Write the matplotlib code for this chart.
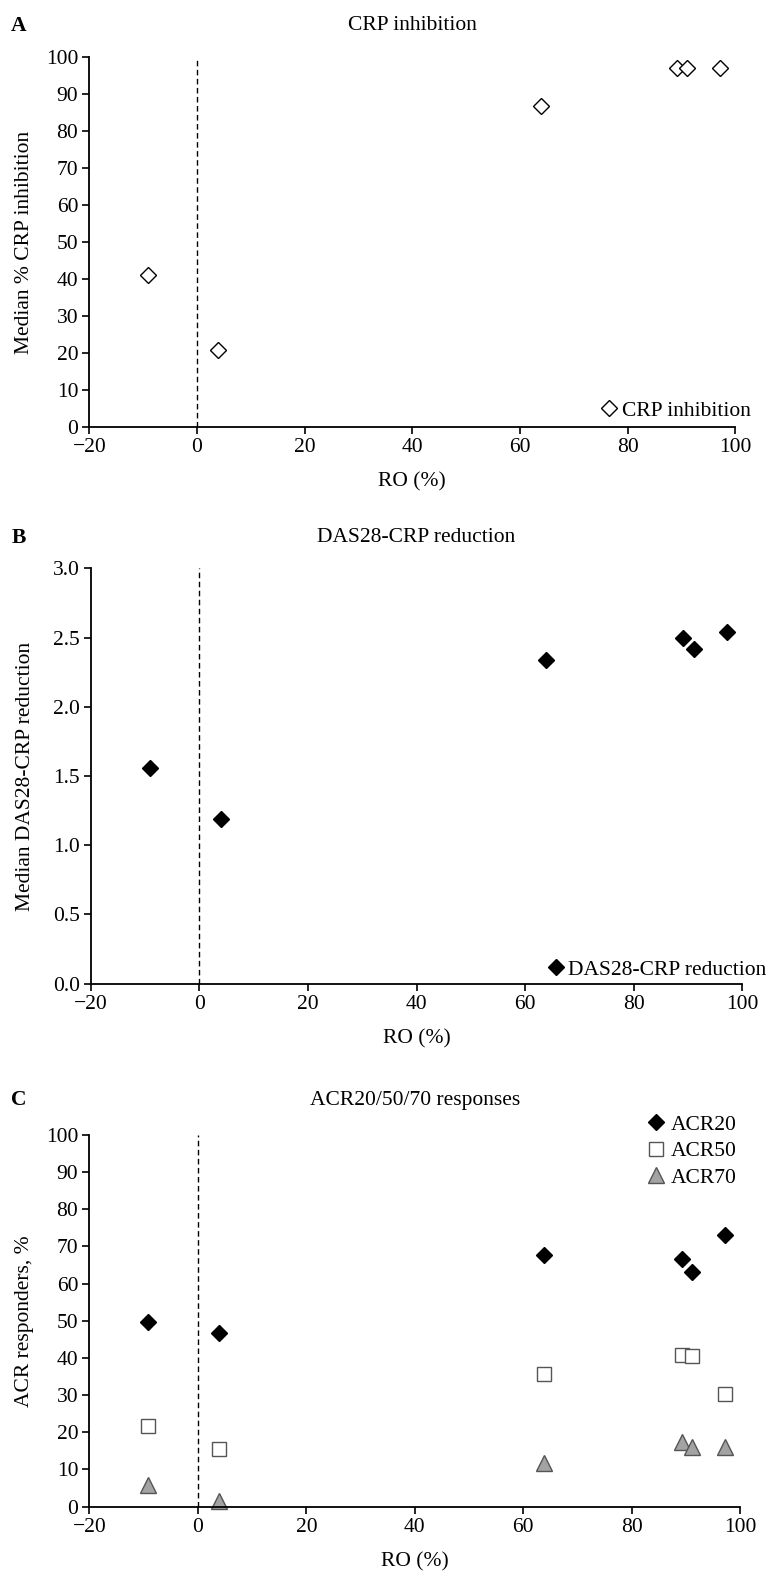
import matplotlib
matplotlib.use('Agg')
from matplotlib import pyplot as plt

plt.rcParams['font.family'] = ['Liberation Serif', 'DejaVu Serif']

# data
ro = [-9.2, 3.9, 63.9, 89.2, 91.1, 97.2]
crp_inhib = [41.2, 20.8, 86.8, 96.9, 96.9, 96.9]
das28_red = [1.56, 1.19, 2.34, 2.50, 2.42, 2.54]
acr20 = [49.6, 46.8, 67.6, 66.7, 63.0, 73.0]
acr50 = [21.8, 15.5, 35.6, 40.9, 40.4, 30.3]
acr70 = [5.7, 1.6, 11.8, 17.4, 16.0, 16.0]

xticks = [-20, 0, 20, 40, 60, 80, 100]

FS = 15.5
W, H = 770, 1571
fig = plt.figure(figsize=(W / 100, H / 100), dpi=100)

def px(l, t, r, b):
    return [l / W, (H - b) / H, (r - l) / W, (b - t) / H]

def style(ax, ylim, yticks, yfmt):
    ax.set_xlim(-20, 100)
    ax.set_ylim(*ylim)
    ax.set_xticks(xticks)
    ax.set_xticklabels(['\u221220' if v < 0 else str(v) for v in xticks])
    ax.set_yticks(yticks)
    ax.set_yticklabels([yfmt.format(v) for v in yticks])
    for s in ['top', 'right']:
        ax.spines[s].set_visible(False)
    for s in ['left', 'bottom']:
        ax.spines[s].set_linewidth(1.3)
    ax.tick_params(direction='out', length=5, width=1.2, labelsize=FS, pad=3)
    ax.axvline(0, color='k', lw=1, ls=(0, (4, 2.5)), zorder=1)
    ax.set_xlabel('RO (%)', fontsize=FS, labelpad=11)

# panel A
axA = fig.add_axes(px(89.4, 57, 735.3, 427.2))
style(axA, (0, 100), range(0, 101, 10), '{}')
axA.plot(ro, crp_inhib, ls='none', marker='D', ms=8, mfc='white', mec='k', mew=1,
         label='CRP inhibition', clip_on=False)
axA.set_ylabel('Median % CRP inhibition', fontsize=FS)
axA.yaxis.set_label_coords(-0.085, 0.5)
axA.legend(loc='center right', bbox_to_anchor=(1.0235, 0.044), frameon=False,
           fontsize=FS, handlelength=0.8, handletextpad=0.2, borderpad=0, borderaxespad=0)
fig.text(412.4 / W, 1 - 25 / H, 'CRP inhibition', ha='center', va='center', fontsize=FS)
fig.text(19 / W, 1 - 26 / H, 'A', ha='center', va='center', fontsize=FS, weight='bold')

# panel B
axB = fig.add_axes(px(90.9, 568.4, 742.1, 983.6))
style(axB, (0, 3), [0, 0.5, 1, 1.5, 2, 2.5, 3], '{:.1f}')
axB.plot(ro, das28_red, ls='none', marker='D', ms=8, mfc='k', mec='k', mew=1,
         label='DAS28-CRP reduction', clip_on=False)
axB.set_ylabel('Median DAS28-CRP reduction', fontsize=FS)
axB.yaxis.set_label_coords(-0.086, 0.5)
axB.legend(loc='center right', bbox_to_anchor=(1.0378, 0.033), frameon=False,
           fontsize=FS, handlelength=0.8, handletextpad=0.2, borderpad=0, borderaxespad=0)
fig.text(416.5 / W, 1 - 538 / H, 'DAS28-CRP reduction', ha='center', va='center', fontsize=FS)
fig.text(19 / W, 1 - 538 / H, 'B', ha='center', va='center', fontsize=FS, weight='bold')

# panel C
axC = fig.add_axes(px(89.4, 1134.8, 740.2, 1506.6))
style(axC, (0, 100), range(0, 101, 10), '{}')
axC.plot(ro, acr20, ls='none', marker='D', ms=8, mfc='k', mec='k', mew=1,
         label='ACR20', clip_on=False)
axC.plot(ro, acr50, ls='none', marker='s', ms=10, mfc='white', mec='#555555', mew=1,
         label='ACR50', clip_on=False)
axC.plot(ro, acr70, ls='none', marker='^', ms=11, mfc='#a3a3a3', mec='#555555', mew=1,
         label='ACR70', clip_on=False)
axC.set_ylabel('ACR responders, %', fontsize=FS)
axC.yaxis.set_label_coords(-0.085, 0.5)
axC.legend(loc='center right', bbox_to_anchor=(0.995, 0.956), frameon=False,
           fontsize=FS, handlelength=0.8, handletextpad=0.3, labelspacing=0.3,
           borderpad=0, borderaxespad=0)
fig.text(414.8 / W, 1 - 1100 / H, 'ACR20/50/70 responses', ha='center', va='center', fontsize=FS)
fig.text(19 / W, 1 - 1100 / H, 'C', ha='center', va='center', fontsize=FS, weight='bold')

fig.savefig('out.png', dpi=100)
